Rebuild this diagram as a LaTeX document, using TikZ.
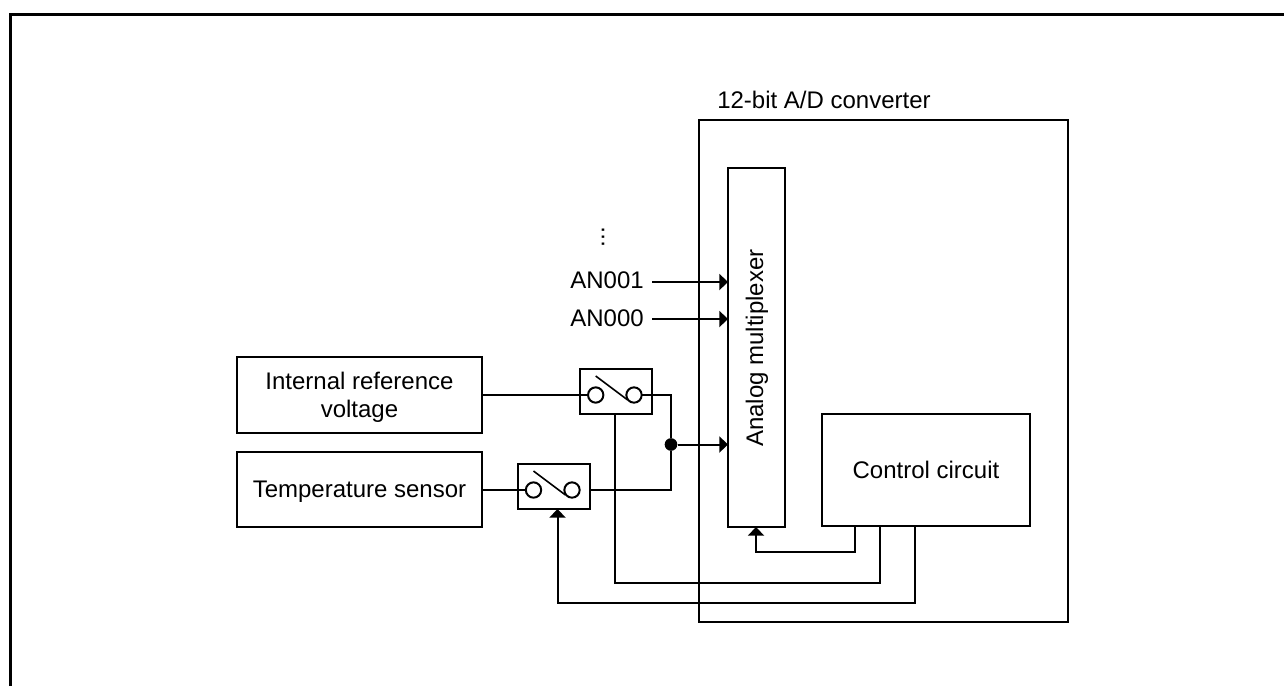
\documentclass[tikz,border=0pt]{standalone}
\usepackage{fontspec}
\setmainfont{Liberation Sans}
\usetikzlibrary{arrows.meta, positioning}

\begin{document}
\begin{tikzpicture}[
    x=0.75pt, y=-0.75pt,
    node distance=14.5pt and 0.2cm,
    wire/.style={draw, line width=1.5pt},
    tipwire/.style={wire, -{Triangle[length=6.5pt,width=12pt]}},
    block/.style={draw, line width=1.5pt, inner sep=0pt, outer sep=0pt, align=center, text depth=0pt,
                font=\fontsize{18pt}{21.4pt}\selectfont},
    srcbox/.style={block, minimum width=184.2pt, minimum height=56.5pt},
    swbox/.style={block, minimum width=54pt, minimum height=33.75pt},
    contact/.style={draw, circle, line width=1.5pt, fill=white, inner sep=0pt, outer sep=0pt, minimum size=11.5pt},
    lbl/.style={inner sep=0pt, font=\fontsize{18pt}{21.4pt}\selectfont}
]
\useasboundingbox (0,0) rectangle (1284,686);
\draw[line width=2.25pt] (10.5,686) |- (1284,14.5);

\node[block, minimum width=276.75pt, minimum height=376.5pt] (conv) at (883.5,371) {};
\node[lbl, anchor=base west] (convtitle) at (717,108.5) {12-bit A/D converter};
\node[block, minimum width=42.75pt, minimum height=269.25pt] (mux) at (756.5,347.5) {};
\node[lbl, rotate=90] (muxtext) at (757,348) {Analog multiplexer};
\node[block, minimum width=156pt, minimum height=84pt] (ctrl) at (926,470) {Control circuit};

\node[srcbox] (refv) at (359.5,395) {Internal reference \\ voltage};
\node[srcbox, below=of refv] (temp) {Temperature sensor};

\node[swbox] (sw1) at (616,391.5) {};
\node[swbox] (sw2) at (554,486) {};
\node[contact] (c1a) at (595.7,395) {};
\node[contact] (c1b) at (634,395) {};
\node[contact] (c2a) at (533.5,490) {};
\node[contact] (c2b) at (572,490) {};
\node[circle, fill=black, inner sep=0pt, minimum size=9.5pt] (jct) at (671,444.5) {};

\node[lbl, anchor=base east] (an1) at (644,288.5) {AN001};
\node[lbl, anchor=base east] (an0) at (644,326.5) {AN000};
\node[lbl, rotate=90] (dots) at (603,237) {...};

% switch blades
\draw[wire, line width=1.2pt] (c1a) ++(0,-19) -- ++(32,24);
\draw[wire, line width=1.2pt] (c2a) ++(0,-19) -- ++(32,24);

\coordinate (anin1) at (652,282);
\coordinate (anin0) at (652,319);
\coordinate (ctrlm) at (855,526);
\coordinate (ctrls) at (879.5,526);
\coordinate (ctrlt) at (915,526);
\coordinate (muxin) at (756,527);
\coordinate (sw1out) at (614.7,414);
\coordinate (sw2in) at (557.5,509);

\draw[tipwire] (anin1) -- (anin1 -| mux.west);
\draw[tipwire] (anin0) -- (anin0 -| mux.west);
\draw[wire] (refv.east) -- (c1a.west);
\draw[wire] (temp.east |- c2a) -- (c2a.west);
\draw[wire] (c1b.east) -| (jct.north);
\draw[wire] (sw2.east |- c2b) -| (jct.south);
\draw[tipwire] (jct) -- (jct -| mux.west);
\draw[tipwire] (ctrlm) -- ++(0,26) -| (muxin);
\draw[wire] (ctrls) -- ++(0,56.7) -| (sw1out);
\draw[tipwire] (ctrlt) -- ++(0,77) -| (sw2in);
\end{tikzpicture}
\end{document}
